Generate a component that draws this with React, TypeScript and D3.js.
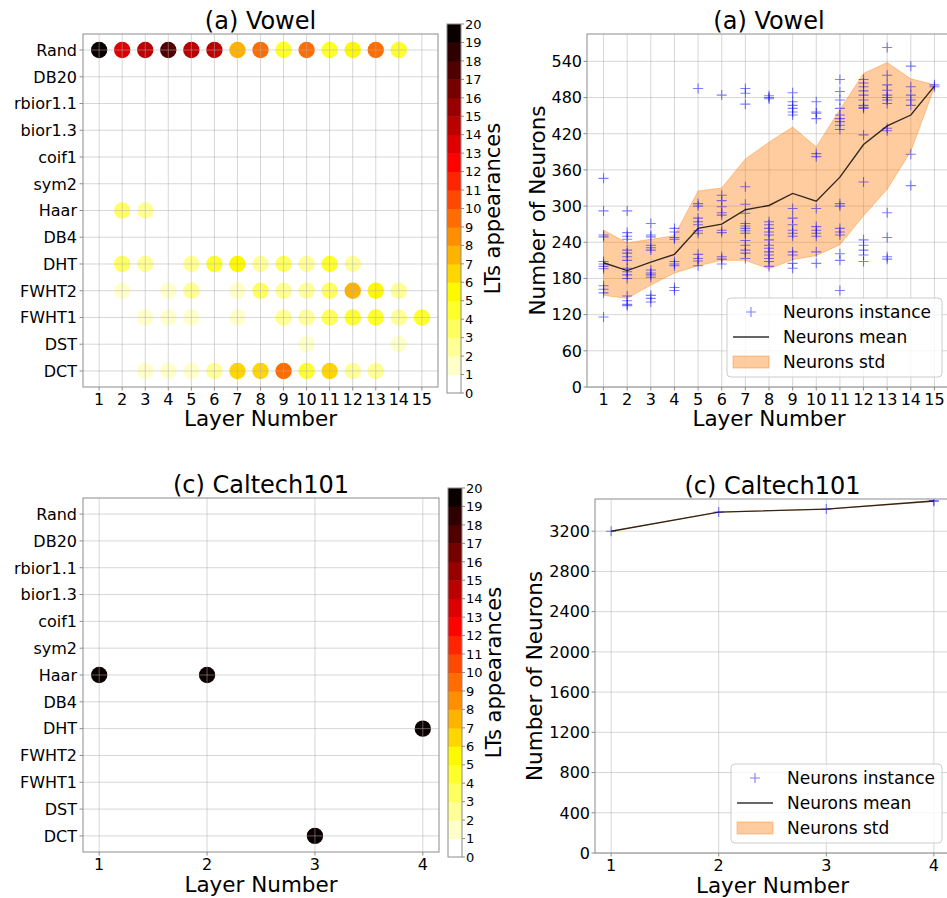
import * as d3 from "d3";

const FONT = "DejaVu Sans, Verdana, sans-serif";

// rows of the appearance plots, top to bottom
const transforms = ["Rand", "DB20", "rbior1.1", "bior1.3", "coif1", "sym2", "Haar", "DB4", "DHT", "FWHT2", "FWHT1", "DST", "DCT"];

// (a) Vowel: LT appearances per layer (layers 1..15)
const vowelLayers = d3.range(1, 16);
const vowelRand = [20, 13, 14, 17, 14, 14, 7, 9, 4, 9, 4, 5, 9, 4, 0];
const vowelHaar = [0, 3, 2, 0, 0, 0, 0, 0, 0, 0, 0, 0, 0, 0, 0];
const vowelDHT = [0, 3, 2, 0, 2, 4, 5, 2, 3, 2, 4, 2, 0, 0, 0];
const vowelFWHT2 = [0, 1, 0, 1, 2, 0, 1, 3, 2, 2, 3, 7, 5, 2, 0];
const vowelFWHT1 = [0, 0, 1, 1, 1, 0, 1, 0, 2, 2, 3, 4, 4, 2, 4];
const vowelDST = [0, 0, 0, 0, 0, 0, 0, 0, 0, 1, 0, 0, 0, 1, 0];
const vowelDCT = [0, 0, 1, 1, 1, 2, 6, 6, 9, 4, 6, 2, 2, 0, 0];

// (c) Caltech101: LT appearances per layer (layers 1..4)
const caltechLayers = [1, 2, 3, 4];
const caltechHaar = [20, 20, 0, 0];
const caltechDHT = [0, 0, 0, 20];
const caltechDCT = [0, 0, 20, 0];

// neurons per layer, one list per layer
const vowelInstances = [
  [346, 292, 252, 249, 208, 204, 200, 196, 168, 162, 156, 116],
  [292, 256, 250, 245, 227, 222, 216, 210, 197, 191, 186, 180, 151, 143, 137, 135],
  [271, 252, 249, 235, 231, 227, 194, 189, 186, 182, 152, 147, 141],
  [263, 257, 248, 245, 208, 204, 201, 165, 160],
  [495, 304, 300, 280, 274, 269, 259, 255, 220, 213, 209, 201],
  [484, 318, 309, 299, 289, 285, 260, 256, 216, 212, 204],
  [495, 487, 469, 332, 303, 288, 271, 267, 263, 259, 255, 243, 235, 227, 222, 213],
  [483, 480, 478, 274, 269, 263, 257, 252, 244, 235, 230, 224, 219, 213, 208, 200],
  [488, 473, 467, 462, 456, 451, 296, 280, 269, 260, 255, 250, 224, 219, 205, 197],
  [473, 456, 454, 445, 387, 382, 296, 266, 260, 255, 250, 224, 205],
  [510, 490, 476, 462, 451, 445, 440, 434, 427, 304, 300, 263, 257, 252, 221, 210, 160],
  [510, 504, 498, 491, 484, 476, 467, 464, 462, 418, 340, 244, 235, 227, 219, 208],
  [563, 517, 501, 492, 484, 480, 476, 470, 429, 425, 289, 248, 216, 212],
  [532, 498, 484, 476, 467, 386, 334],
  [501, 498],
];
const vowelMean = [206, 193, 207, 220, 263, 270, 294, 301, 321, 308, 348, 402, 433, 451, 499];
const vowelStd = [54, 46, 38, 31, 62, 60, 84, 105, 110, 90, 112, 118, 105, 60, 2];
const vowelTicks = d3.range(0, 541, 60);

const caltechInstances = [[3200], [3390], [3420], [3495, 3505]];
const caltechMean = [3200, 3390, 3420, 3500];
const caltechStd = [0, 0, 0, 5];
const caltechTicks = d3.range(0, 3201, 400);

const cbarTicks = d3.range(0, 21);

// matplotlib "hot_r" cut into 20 levels over 0..20
function hotR(v: number) {
  const i = Math.min(19, Math.max(0, Math.floor(v)));
  const x = 1 - i / 19;
  const r = Math.min(1, 0.0416 + (x * (1 - 0.0416)) / 0.365079);
  const g = Math.min(1, Math.max(0, (x - 0.365079) / (0.746032 - 0.365079)));
  const b = Math.min(1, Math.max(0, (x - 0.746032) / (1 - 0.746032)));
  return d3.rgb(r * 255, g * 255, b * 255).formatHex();
}

const GRID = "#b0b0b0";
const SPINE = "#8c8c8c";

function AppearancePanel({ title, layers, rows, box, cbar, xlabelDy }) {
  const { left, right, top, bottom } = box;
  const pad = (layers[layers.length - 1] - layers[0]) * 0.05;
  const x = d3.scaleLinear([layers[0] - pad, layers[layers.length - 1] + pad], [left, right]);
  const y = d3.scaleLinear([-0.6, transforms.length - 1 + 0.6], [top, bottom]);
  const c = d3.scaleLinear([0, 20], [cbar.bottom, cbar.top]);
  const dots = [];
  transforms.forEach((t, ri) => {
    const vals = rows[t];
    if (!vals) return;
    vals.forEach((v, li) => {
      if (v > 0) dots.push({ layer: layers[li], row: ri, v });
    });
  });
  return (
    <g>
      <rect x={left} y={top} width={right - left} height={bottom - top} fill="white" />
      {dots.map((d, i) => (
        <circle key={i} cx={x(d.layer)} cy={y(d.row)} r={8.2} fill={hotR(d.v)} />
      ))}
      {transforms.map((t, i) => (
        <line key={t} x1={left} x2={right} y1={y(i)} y2={y(i)} stroke={GRID} strokeOpacity={0.5} />
      ))}
      {layers.map((l) => (
        <line key={l} x1={x(l)} x2={x(l)} y1={top} y2={bottom} stroke={GRID} strokeOpacity={0.5} />
      ))}
      <rect x={left} y={top} width={right - left} height={bottom - top} fill="none" stroke={SPINE} />
      {transforms.map((t, i) => (
        <g key={t}>
          <line x1={left - 3.5} x2={left} y1={y(i)} y2={y(i)} stroke={SPINE} />
          <text x={left - 6} y={y(i) + 5.8} textAnchor="end" fontSize={16}>{t}</text>
        </g>
      ))}
      {layers.map((l) => (
        <g key={l}>
          <line x1={x(l)} x2={x(l)} y1={bottom} y2={bottom + 3.5} stroke={SPINE} />
          <text x={x(l)} y={bottom + 18} textAnchor="middle" fontSize={16}>{l}</text>
        </g>
      ))}
      <text x={(left + right) / 2} y={bottom + xlabelDy} textAnchor="middle" fontSize={21.5}>Layer Number</text>
      <text x={(left + right) / 2} y={top - 5} textAnchor="middle" fontSize={24}>{title}</text>
      {d3.range(0, 20).map((i) => (
        <rect key={i} x={cbar.left} width={cbar.right - cbar.left} y={c(i + 1)} height={c(i) - c(i + 1) + 0.5} fill={hotR(i)} />
      ))}
      <rect x={cbar.left} y={cbar.top} width={cbar.right - cbar.left} height={cbar.bottom - cbar.top} fill="none" stroke={SPINE} />
      {cbarTicks.map((t) => (
        <g key={t}>
          <line x1={cbar.right} x2={cbar.right + 3} y1={c(t)} y2={c(t)} stroke={SPINE} />
          <text x={cbar.right + 4} y={c(t) + 4.7} fontSize={13}>{t}</text>
        </g>
      ))}
      <text transform={`translate(${cbar.right + 39},${(cbar.top + cbar.bottom) / 2}) rotate(-90)`} textAnchor="middle" fontSize={21}>LTs appearances</text>
    </g>
  );
}

function Plus({ cx, cy, s, ...rest }) {
  return <path d={`M${cx - s},${cy}H${cx + s}M${cx},${cy - s}V${cy + s}`} {...rest} />;
}

function NeuronPanel({ title, layers, instances, mean, std, ticks, box, legend, ylabelX, xlabelDy }) {
  const { left, right, top, bottom } = box;
  const pad = (layers[layers.length - 1] - layers[0]) * 0.05;
  const x = d3.scaleLinear([layers[0] - pad, layers[layers.length - 1] + pad], [left, right]);
  const all = instances.flat();
  const lo = d3.min(all);
  const hi = d3.max(all);
  const y = d3.scaleLinear([0, hi + 0.05 * (hi - lo)], [bottom, top]);
  const line = d3.line((d, i) => x(layers[i]), (d) => y(d));
  const band = d3
    .area((d, i) => x(layers[i]), (d, i) => y(mean[i] - std[i]), (d, i) => y(mean[i] + std[i]));
  const lx = legend.x;
  const ly = legend.y;
  const clipId = `clip-${title.replace(/\W/g, "")}`;
  return (
    <g>
      <defs>
        <clipPath id={clipId}>
          <rect x={left} y={top} width={right - left} height={bottom - top} />
        </clipPath>
      </defs>
      {ticks.map((t) => (
        <line key={t} x1={left} x2={right} y1={y(t)} y2={y(t)} stroke={GRID} strokeOpacity={0.5} />
      ))}
      {layers.map((l) => (
        <line key={l} x1={x(l)} x2={x(l)} y1={top} y2={bottom} stroke={GRID} strokeOpacity={0.5} />
      ))}
      <g clipPath={`url(#${clipId})`}>
        <path d={band(mean)} fill="#ff7f0e" fillOpacity={0.4} stroke="#ff7f0e" strokeOpacity={0.4} strokeWidth={1} />
        <path d={line(mean)} fill="none" stroke="black" strokeOpacity={0.8} strokeWidth={1.4} />
        {instances.map((vals, li) =>
          vals.map((v, k) => (
            <Plus key={`${li}-${k}`} cx={x(layers[li])} cy={y(v)} s={5} stroke="blue" strokeOpacity={0.5} strokeWidth={1.1} />
          ))
        )}
      </g>
      <rect x={left} y={top} width={right - left} height={bottom - top} fill="none" stroke={SPINE} />
      {ticks.map((t) => (
        <g key={t}>
          <line x1={left - 3.5} x2={left} y1={y(t)} y2={y(t)} stroke={SPINE} />
          <text x={left - 5} y={y(t) + 5.8} textAnchor="end" fontSize={16}>{t}</text>
        </g>
      ))}
      {layers.map((l) => (
        <g key={l}>
          <line x1={x(l)} x2={x(l)} y1={bottom} y2={bottom + 3.5} stroke={SPINE} />
          <text x={x(l)} y={bottom + 18} textAnchor="middle" fontSize={16}>{l}</text>
        </g>
      ))}
      <text x={(left + right) / 2} y={bottom + xlabelDy} textAnchor="middle" fontSize={21.5}>Layer Number</text>
      <text x={(left + right) / 2} y={top - 5} textAnchor="middle" fontSize={24}>{title}</text>
      <text transform={`translate(${ylabelX},${(top + bottom) / 2}) rotate(-90)`} textAnchor="middle" fontSize={21.5}>Number of Neurons</text>
      <rect x={lx} y={ly} width={legend.w} height={79} rx={4} fill="white" fillOpacity={0.8} stroke="#cccccc" />
      <Plus cx={lx + 24} cy={ly + 14} s={5} stroke="blue" strokeOpacity={0.5} strokeWidth={1.1} />
      <line x1={lx + 6} x2={lx + 42} y1={ly + 39} y2={ly + 39} stroke="black" strokeOpacity={0.8} strokeWidth={1.4} />
      <rect x={lx + 6} y={ly + 58} width={36} height={12} fill="#ff7f0e" fillOpacity={0.4} stroke="#ff7f0e" strokeOpacity={0.4} />
      <text x={lx + 56} y={ly + 20} fontSize={17}>Neurons instance</text>
      <text x={lx + 56} y={ly + 45} fontSize={17}>Neurons mean</text>
      <text x={lx + 56} y={ly + 70} fontSize={17}>Neurons std</text>
    </g>
  );
}

export default function App() {
  const vowelRows = {
    Rand: vowelRand, Haar: vowelHaar, DHT: vowelDHT, FWHT2: vowelFWHT2,
    FWHT1: vowelFWHT1, DST: vowelDST, DCT: vowelDCT,
  };
  const caltechRows = { Haar: caltechHaar, DHT: caltechDHT, DCT: caltechDCT };
  return (
    <svg width={947} height={898} style={{ position: "absolute", left: 0, top: 0, background: "white" }} fontFamily={FONT} fill="#000">
      <rect width={947} height={898} fill="white" />
      <AppearancePanel
        title="(a) Vowel"
        layers={vowelLayers}
        rows={vowelRows}
        box={{ left: 83, right: 438, top: 34, bottom: 387 }}
        cbar={{ left: 447, right: 461, top: 24, bottom: 393 }}
        xlabelDy={39}
      />
      <AppearancePanel
        title="(c) Caltech101"
        layers={caltechLayers}
        rows={caltechRows}
        box={{ left: 83, right: 439, top: 498, bottom: 852 }}
        cbar={{ left: 448, right: 462, top: 488, bottom: 857 }}
        xlabelDy={40}
      />
      <NeuronPanel
        title="(a) Vowel"
        layers={vowelLayers}
        instances={vowelInstances}
        mean={vowelMean}
        std={vowelStd}
        ticks={vowelTicks}
        box={{ left: 587, right: 951, top: 34, bottom: 387 }}
        legend={{ x: 727, y: 298, w: 215 }}
        ylabelX={545}
        xlabelDy={39}
      />
      <NeuronPanel
        title="(c) Caltech101"
        layers={caltechLayers}
        instances={caltechInstances}
        mean={caltechMean}
        std={caltechStd}
        ticks={caltechTicks}
        box={{ left: 595, right: 950, top: 499, bottom: 853 }}
        legend={{ x: 731, y: 764, w: 211 }}
        ylabelX={542}
        xlabelDy={40}
      />
    </svg>
  );
}
